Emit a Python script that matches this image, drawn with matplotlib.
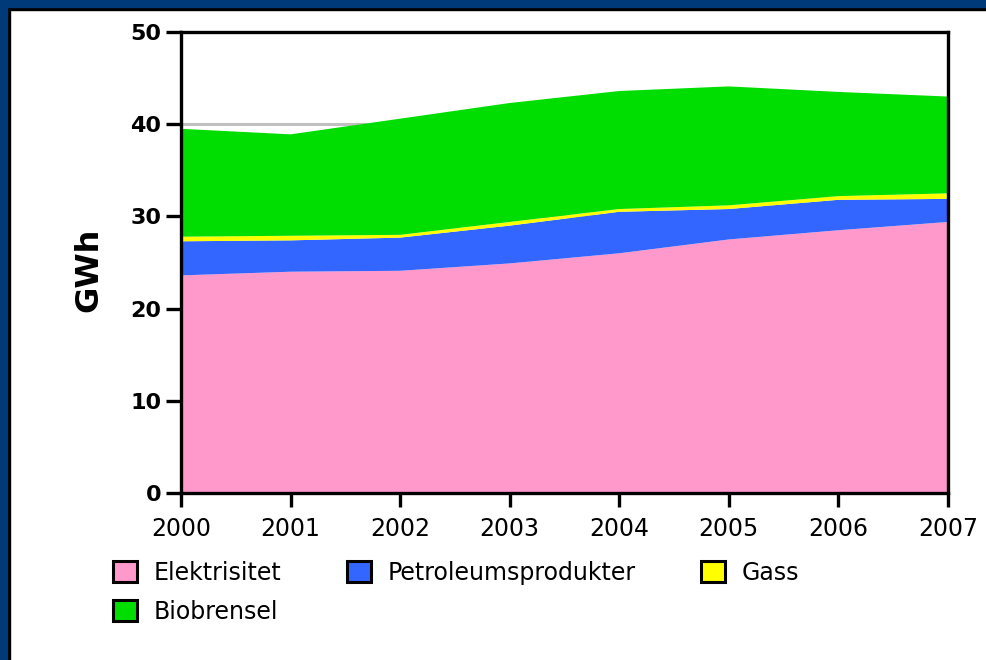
import matplotlib
matplotlib.use("Agg")
import matplotlib.pyplot as plt
from matplotlib.patches import Patch, Rectangle

years = [2000, 2001, 2002, 2003, 2004, 2005, 2006, 2007]
# GWh per energy carrier
elektrisitet = [23.6, 24.0, 24.1, 24.9, 26.0, 27.5, 28.5, 29.4]
petroleum = [3.7, 3.4, 3.6, 4.1, 4.5, 3.3, 3.3, 2.5]
gass = [0.5, 0.5, 0.3, 0.4, 0.3, 0.4, 0.4, 0.6]
biobrensel = [11.7, 11.0, 12.6, 12.9, 12.8, 12.9, 11.3, 10.5]

labels = ["Elektrisitet", "Petroleumsprodukter", "Gass", "Biobrensel"]
colors = ["#ff99cc", "#3366ff", "#ffff00", "#00dd00"]

fig = plt.figure(figsize=(9.86, 6.6), dpi=100)
fig.patch.set_facecolor("white")

# frame round the picture: blue band and a thin black line (top and left)
W, H = 986, 660
def px_rect(x, y, w, h, c):
    fig.patches.append(Rectangle((x / W, 1 - (y + h) / H), w / W, h / H,
                                 transform=fig.transFigure, color=c, zorder=0))
px_rect(0, 0, W, 10, "black")
px_rect(0, 0, 10, H, "black")
px_rect(0, 0, W, 7, "#003a78")
px_rect(0, 0, 7, H, "#003a78")

ax = fig.add_axes([181 / W, 1 - 493 / H, (948 - 181) / W, (493 - 32) / H])
ax.stackplot(years, elektrisitet, petroleum, gass, biobrensel,
             colors=colors, linewidth=0, zorder=2)

ax.set_xlim(2000, 2007)
ax.set_ylim(0, 50)
ax.set_xticks(years)
ax.set_yticks([0, 10, 20, 30, 40, 50])
ax.yaxis.grid(True, color="#c0c0c0", linewidth=2.2, zorder=1)
ax.set_axisbelow(True)

for s in ax.spines.values():
    s.set_linewidth(2.4)
    s.set_zorder(3)
ax.tick_params(axis="y", length=11, width=2.4, pad=3, labelsize=16)
ax.tick_params(axis="x", length=10, width=2.4, pad=7, labelsize=17)
for t in ax.get_yticklabels():
    t.set_fontweight("bold")

ax.set_ylabel("GWh", fontsize=23, fontweight="bold")
ax.yaxis.set_label_coords(-0.1, 0.485)

handles = [Patch(facecolor=c, edgecolor="black", linewidth=2.2) for c in colors]
# legend is filled column by column, so reorder to get E, P, G on row one
order = [0, 3, 1, 2]
fig.legend([handles[i] for i in order], [labels[i] for i in order],
           ncol=3, loc="upper left", bbox_to_anchor=(113 / W, 1 - 561 / H),
           frameon=False, fontsize=17, handlelength=1.0, handleheight=1.0,
           handletextpad=0.7, columnspacing=2.8, labelspacing=0.62,
           borderpad=0, borderaxespad=0)

fig.savefig("out.png", dpi=100)
